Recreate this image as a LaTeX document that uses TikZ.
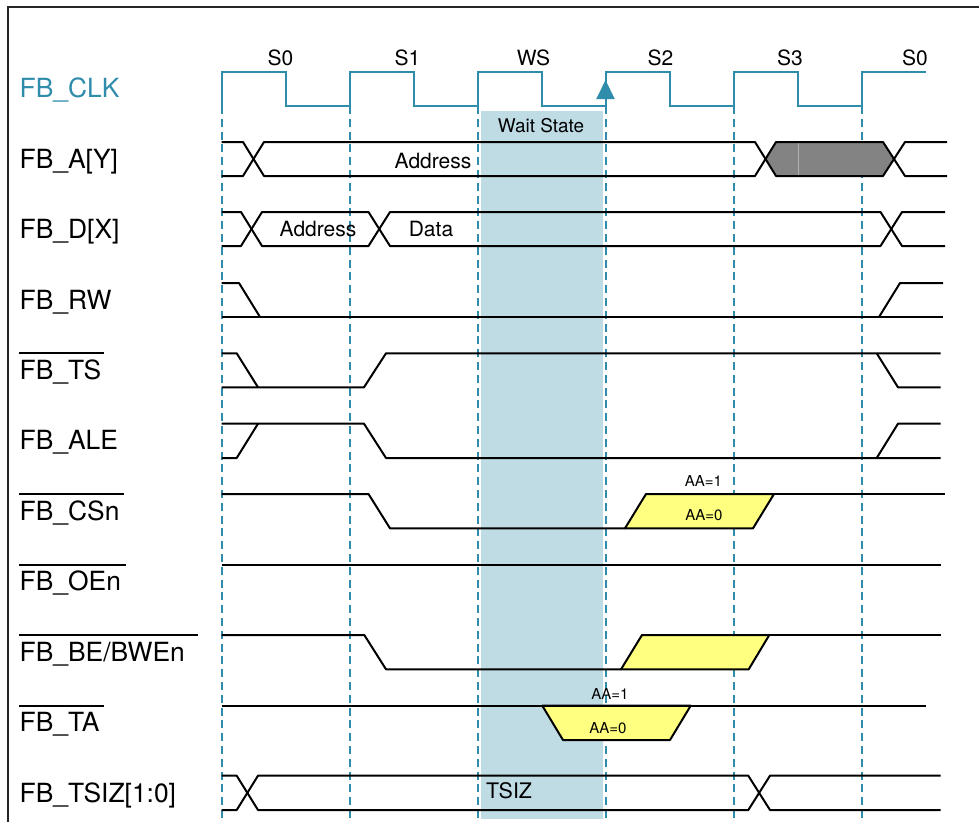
\documentclass[tikz,border=0pt]{standalone}
\usepackage{fontspec}
\setmainfont{TeX Gyre Heros}
\definecolor{azulreloj}{HTML}{2F8CAB}
\definecolor{azulespera}{HTML}{BFDCE5}
\definecolor{amarillo}{HTML}{FFFF80}
\definecolor{grisbus}{HTML}{838383}
\usetikzlibrary{arrows.meta, positioning}

\begin{document}
\begin{tikzpicture}[
  x=1pt, y=-1pt,
  sig/.style={black, line width=2pt, line join=round},
  clk/.style={azulreloj, line width=2pt, line join=miter},
  guide/.style={azulreloj, line width=2pt, dash pattern=on 8pt off 4.8pt},
  lbl/.style={anchor=base west, inner sep=0pt, font=\fontsize{26.4}{28}\selectfont},
  txt/.style={anchor=base, inner sep=0pt, font=\fontsize{21}{24}\selectfont},
  small/.style={anchor=base, inner sep=0pt, font=\fontsize{15}{17}\selectfont},
  yel/.style={sig, fill=amarillo}
]
  \useasboundingbox (0,0) rectangle (979,822);
  \draw[black!85, line width=2pt] (8,822) -- (8,7) -- (979,7);

  % wait state band and clock guides
  \fill[azulespera] (481,111) rectangle (603,819);
  \foreach \x in {221.5,349.5,477.5,605.5,733.5,861.5}
    \draw[guide] (\x,106) -- (\x,818);

  % clock
  \draw[clk] (221.5,105.5) -- (221.5,71.5)
    \foreach \x in {221.5,349.5,477.5,605.5,733.5}
      { -- ++(64,0) -- ++(0,34) -- ++(64,0) -- ++(0,-34) }
    -- ++(64,0);
  \coordinate (rise) at (605.5,105.5);
  \coordinate (tip) at (605.5,80);
  \draw[azulreloj, line width=2pt, -{Triangle[width=18pt,length=19pt]}] (rise) -- (tip);

  % signal names
  \node[lbl, text=azulreloj] (nclk) at (19.5,97) {FB\_CLK};
  \node[lbl] (na) at (19.5,168) {FB\_A[Y]};
  \node[lbl] (nd) at (19.5,238) {FB\_D[X]};
  \node[lbl] (nrw) at (19.5,309) {FB\_RW};
  \node[lbl] (nts) at (19.5,379) {FB\_TS};
  \node[lbl] (nale) at (19.5,449) {FB\_ALE};
  \node[lbl] (ncs) at (19.5,520) {FB\_CSn};
  \node[lbl] (noe) at (19.5,590) {FB\_OEn};
  \node[lbl] (nbe) at (19.5,661) {FB\_BE/BWEn};
  \node[lbl] (nta) at (19.5,731) {FB\_TA};
  \node[lbl] (ntsiz) at (19.5,802) {FB\_TSIZ[1:0]};
  \foreach \y/\e in {353.3/104,494/123.5,564.7/126,635/198,705.7/104}
    \draw[sig] (19,\y) -- (\e,\y);

  % states
  \node[txt] (s0) at (280.5,65) {S0};
  \node[txt] (s1) at (407.5,65) {S1};
  \node[txt] (ws) at (533.5,65) {WS};
  \node[txt] (s2) at (660.5,65) {S2};
  \node[txt] (s3) at (790,65) {S3};
  \node[txt] (s0b) at (915,65) {S0};
  \node[anchor=base, inner sep=0pt, font=\fontsize{18.9}{21}\selectfont] (wait) at (541,132) {Wait State};

  % FB_A[Y]
  \fill[grisbus] (765.5,159) -- (776,142) -- (883,142) -- (893.5,159) -- (883,176) -- (776,176) -- cycle;
  \draw[white!70!black, line width=0.4pt] (797.7,143) -- (797.7,175);
  \draw[sig] (221.5,142) -- (243,142) -- (264,176) -- (755,176) -- (776,142) -- (883,142) -- (905,176) -- (947,176);
  \draw[sig] (221.5,176) -- (243,176) -- (264,142) -- (755,142) -- (776,176) -- (883,176) -- (905,142) -- (947,142);
  \node[txt] (addra) at (433,168) {Address};

  % FB_D[X]
  \draw[sig] (221.5,212) -- (241,212) -- (262,246) -- (368.5,246) -- (390,212) -- (880.5,212) -- (902,246) -- (945,246);
  \draw[sig] (221.5,246) -- (241,246) -- (262,212) -- (368.5,212) -- (390,246) -- (880.5,246) -- (902,212) -- (945,212);
  \node[txt] (addrd) at (318,236) {Address};
  \node[txt] (datad) at (431,236) {Data};

  % FB_RW
  \draw[sig] (221.5,283) -- (239,283) -- (260,317);
  \draw[sig] (221.5,317) -- (943,317);
  \draw[sig] (879,317) -- (900,283) -- (943,283);

  % FB_TS
  \draw[sig] (221.5,353.3) -- (236.7,353.3) -- (258,387.3);
  \draw[sig] (221.5,387.3) -- (364,387.3) -- (386,353.3) -- (940.7,353.3);
  \draw[sig] (876.7,353.3) -- (898,387.3) -- (940.7,387.3);

  % FB_ALE
  \draw[sig] (221.5,458) -- (236.7,458) -- (258,423.7);
  \draw[sig] (221.5,423.7) -- (364,423.7) -- (386,458) -- (940.7,458);
  \draw[sig] (876.7,458) -- (898,423.7) -- (940.7,423.7);

  % FB_CSn
  \draw[yel] (625,528.3) -- (646,494) -- (774,494) -- (753,528.3) -- cycle;
  \draw[sig] (221.5,494) -- (368.5,494) -- (390,528.3) -- (625,528.3);
  \draw[sig] (774,494) -- (945,494);
  \node[small] (aa1a) at (703.5,486) {AA=1};
  \node[small] (aa0a) at (704,520) {AA=0};

  % FB_OEn
  \draw[sig] (221.5,564.7) -- (940.7,564.7);

  % FB_BE/BWEn
  \draw[yel] (621,669.3) -- (642,635) -- (769.3,635) -- (748.7,669.3) -- cycle;
  \draw[sig] (221.5,635) -- (364.3,635) -- (386,669.3) -- (621,669.3);
  \draw[sig] (769.3,635) -- (940.7,635);

  % FB_TA
  \draw[yel] (542.3,705.7) -- (563,740) -- (670,740) -- (690.7,705.7) -- cycle;
  \draw[sig] (221.5,705.7) -- (925.7,705.7);
  \node[small] (aa1b) at (610,699) {AA=1};
  \node[small] (aa0b) at (608,733) {AA=0};

  % FB_TSIZ[1:0]
  \draw[sig] (221.5,775.7) -- (236.7,775.7) -- (258,810) -- (748.3,810) -- (770,775.7) -- (940.7,775.7);
  \draw[sig] (221.5,810) -- (236.7,810) -- (258,775.7) -- (748.3,775.7) -- (770,810) -- (940.7,810);
  \node[anchor=base west, inner sep=0pt, font=\fontsize{21.4}{24}\selectfont] (tsiz) at (486,798) {TSIZ};
\end{tikzpicture}
\end{document}
